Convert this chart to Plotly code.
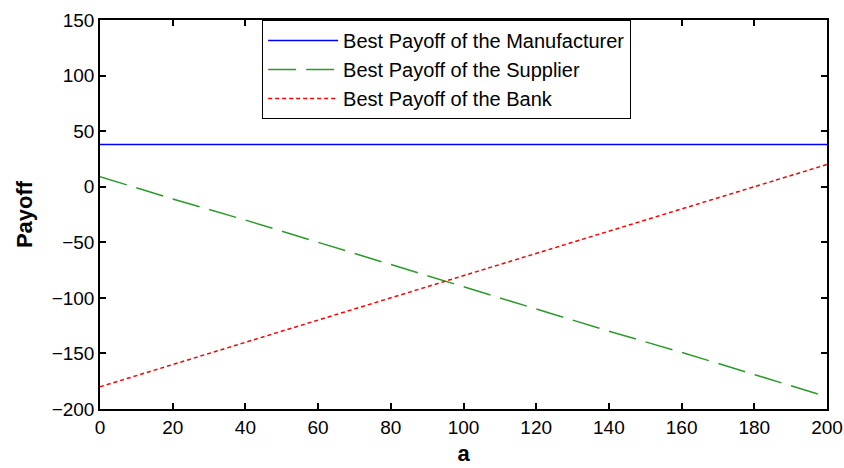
import plotly.graph_objects as go

a_values = [0, 20, 40, 60, 80, 100, 120, 140, 160, 180, 200]
manufacturer = [38, 38, 38, 38, 38, 38, 38, 38, 38, 38, 38]
supplier = [9, -11, -30, -50, -70, -90, -110, -130, -149, -169, -189]
bank = [-180, -160, -140, -120, -100, -80, -60, -40, -20, 0, 20]

x_ticks = [0, 20, 40, 60, 80, 100, 120, 140, 160, 180, 200]
y_ticks = [-200, -150, -100, -50, 0, 50, 100, 150]

fig = go.Figure()
fig.add_trace(go.Scatter(x=a_values, y=manufacturer, mode="lines",
                         name="Best Payoff of the Manufacturer",
                         line=dict(color="#0000FF", width=1.5)))
fig.add_trace(go.Scatter(x=a_values, y=supplier, mode="lines",
                         name="Best Payoff of the Supplier",
                         line=dict(color="#2a9a2a", width=1.5, dash="28px,10px")))
fig.add_trace(go.Scatter(x=a_values, y=bank, mode="lines",
                         name="Best Payoff of the Bank",
                         line=dict(color="#FF0000", width=1.5, dash="4px,3px")))

axis_common = dict(showgrid=False, zeroline=False, showline=True, linecolor="black",
                   linewidth=1.5, mirror="ticks", ticks="inside", ticklen=6,
                   tickcolor="black", tickwidth=1.5, automargin=False,
                   tickfont=dict(family="Arial", size=19, color="black"))

fig.update_xaxes(range=[0, 200], tickvals=x_ticks,
                 title=dict(text="<b>a</b>", font=dict(family="Arial", size=22, color="black"), standoff=9),
                 **axis_common)
fig.update_yaxes(range=[-200, 150], tickvals=y_ticks,
                 title=dict(text="<b>Payoff</b>", font=dict(family="Arial", size=22, color="black"), standoff=13),
                 **axis_common)

fig.update_layout(
    width=844, height=468,
    margin=dict(l=100, r=17, t=20, b=59),
    plot_bgcolor="white", paper_bgcolor="white",
    legend=dict(x=0.223, y=1, xanchor="left", yanchor="top",
                bordercolor="black", borderwidth=1, bgcolor="white",
                font=dict(family="Arial", size=20, color="black"),
                tracegroupgap=0, itemwidth=70),
    showlegend=True,
)

fig.write_html("out.html", config={"displayModeBar": False},
               post_script="document.body.style.margin='0';document.body.style.overflow='hidden';")
